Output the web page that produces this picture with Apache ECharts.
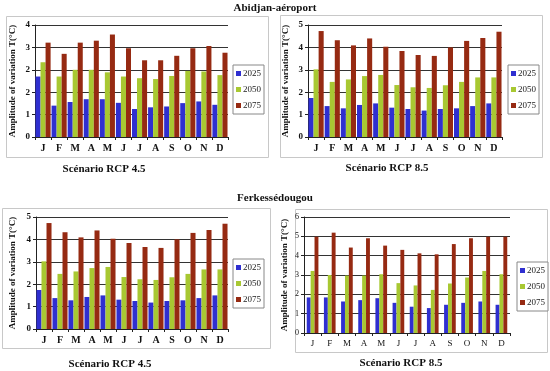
<!DOCTYPE html>
<html><head><meta charset="utf-8">
<script src="https://cdn.jsdelivr.net/npm/echarts@6/dist/echarts.min.js"></script>
<style>html,body{margin:0;padding:0;background:#fff}#c{width:550px;height:371px}</style>
</head><body><div id="c"></div>
<script>
const months = ['J','F','M','A','M','J','J','A','S','O','N','D'];
const years = ['2025','2050','2075'];
// Abidjan-aéroport RCP 4.5
const abi45_2025 = [2.16,1.12,1.25,1.35,1.35,1.22,1.00,1.06,1.09,1.21,1.27,1.15];
const abi45_2050 = [2.67,2.16,2.40,2.40,2.31,2.16,2.10,2.07,2.18,2.36,2.34,2.21];
const abi45_2075 = [3.37,2.97,3.37,3.44,3.66,3.17,2.74,2.74,2.90,3.17,3.25,3.01];
const abi45_ticks = ['0','1','2','2','3','4'];
// Abidjan-aéroport RCP 8.5
const abi85_2025 = [1.74,1.38,1.28,1.43,1.50,1.31,1.25,1.18,1.25,1.28,1.38,1.50];
const abi85_2050 = [3.02,2.46,2.57,2.72,2.77,2.32,2.22,2.19,2.31,2.46,2.66,2.66];
const abi85_2075 = [4.73,4.32,4.09,4.40,4.03,3.84,3.66,3.62,4.00,4.29,4.42,4.70];
// Ferkessédougou RCP 4.5
const fer45_2025 = [1.74,1.38,1.28,1.43,1.50,1.31,1.25,1.18,1.25,1.28,1.38,1.50];
const fer45_2050 = [3.02,2.46,2.57,2.72,2.77,2.32,2.22,2.19,2.31,2.46,2.66,2.66];
const fer45_2075 = [4.73,4.32,4.09,4.40,4.03,3.84,3.66,3.62,4.00,4.29,4.42,4.70];
// Ferkessédougou RCP 8.5
const fer85_2025 = [1.84,1.84,1.63,1.70,1.80,1.56,1.36,1.29,1.46,1.56,1.63,1.46];
const fer85_2050 = [3.21,3.00,2.97,2.97,3.04,2.58,2.46,2.23,2.56,2.87,3.21,3.04];
const fer85_2075 = [4.98,5.19,4.42,4.90,4.52,4.30,4.12,4.07,4.60,4.90,4.98,4.98];

const colors = ['#2f2fd0','#a8c832','#962a12'];
const serif = '"Liberation Serif","DejaVu Serif",serif';
const yName = 'Amplitude of variation T(°C)';

const panels = [
  {grid:{left:35,top:25,width:193,height:112}, data:[abi45_2025,abi45_2050,abi45_2075], max:4, interval:0.8, ticks:abi45_ticks, gap:'6%', bold:true, nameGap:18},
  {grid:{left:308,top:25,width:194,height:112}, data:[abi85_2025,abi85_2050,abi85_2075], max:5, interval:1, gap:'6%', bold:true, nameGap:18},
  {grid:{left:36,top:217,width:192,height:112}, data:[fer45_2025,fer45_2050,fer45_2075], max:5, interval:1, gap:'6%', bold:true, nameGap:19},
  {grid:{left:304,top:217,width:206,height:116}, data:[fer85_2025,fer85_2050,fer85_2075], max:6, interval:1, gap:'32%', bold:false, nameGap:15}
];
const tStyle = {fontFamily:serif,fontWeight:'bold',fontSize:11,color:'#111'};
const option = {
  backgroundColor:'#fff',
  animation:false,
  title:[
    {text:'Abidjan-aéroport', left:'center', top:3, padding:0, textStyle:tStyle},
    {text:'Ferkessédougou', left:'center', top:193, padding:0, textStyle:tStyle},
    {text:'Scénario RCP 4.5', left:104, top:164, padding:0, textAlign:'center', textStyle:tStyle},
    {text:'Scénario RCP 8.5', left:387, top:163, padding:0, textAlign:'center', textStyle:tStyle},
    {text:'Scénario RCP 4.5', left:110, top:359, padding:0, textAlign:'center', textStyle:tStyle},
    {text:'Scénario RCP 8.5', left:401, top:358, padding:0, textAlign:'center', textStyle:tStyle}
  ],
  graphic:[
    {type:'rect', shape:{x:6.5,y:16.5,width:262,height:141}, style:{fill:'none',stroke:'#c8c8c8',lineWidth:1}, z:-1},
    {type:'rect', shape:{x:280.5,y:15.5,width:262,height:142}, style:{fill:'none',stroke:'#c8c8c8',lineWidth:1}, z:-1},
    {type:'rect', shape:{x:2.5,y:208.5,width:268,height:140}, style:{fill:'none',stroke:'#c8c8c8',lineWidth:1}, z:-1},
    {type:'rect', shape:{x:295.5,y:209.5,width:252,height:143}, style:{fill:'none',stroke:'#c8c8c8',lineWidth:1}, z:-1}
  ],
  legend:[
    {left:233, top:65},{left:508, top:65},{left:233, top:259},{left:517, top:262}
  ].map(p=>({
    left:p.left, top:p.top, orient:'vertical', data:years, itemWidth:5, itemHeight:5, itemGap:7,
    padding:[4,3,4,3], borderColor:'#888', borderWidth:1, backgroundColor:'#fff',
    icon:'rect', textStyle:{fontFamily:serif,fontSize:9,color:'#222',padding:[0,0,0,-3]}
  })),
  grid: panels.map(p=>p.grid),
  xAxis: panels.map((p,i)=>({
    type:'category', gridIndex:i, data:months, boundaryGap:true,
    axisLine:{lineStyle:{color:'#222'}},
    axisTick:{show:true, length:3, lineStyle:{color:'#222'}},
    axisLabel:{fontFamily:serif, fontWeight:p.bold?'bold':'normal', fontSize:p.bold?10:9, color:'#111', margin:6}
  })),
  yAxis: panels.map((p,i)=>({
    type:'value', gridIndex:i, min:0, max:p.max, interval:p.interval,
    name:yName, nameLocation:'middle', nameGap:p.nameGap, nameRotate:90,
    nameTextStyle:{fontFamily:serif, fontWeight:'bold', fontSize:9, color:'#111'},
    axisLine:{show:true, lineStyle:{color:'#222'}},
    axisTick:{show:true, length:3, lineStyle:{color:'#222'}},
    splitLine:{show:true, lineStyle:{color:'#333', width:1}},
    axisLabel:{fontFamily:serif, fontWeight:p.bold?'bold':'normal', fontSize:p.bold?9:8, color:'#111', margin:5,
      formatter: p.ticks ? (v)=>p.ticks[Math.round(v/p.interval)] : (v)=>String(v)}
  })),
  series: []
};
panels.forEach((p,i)=>{
  p.data.forEach((arr,k)=>{
    option.series.push({
      type:'bar', name:years[k], xAxisIndex:i, yAxisIndex:i, data:arr,
      barGap:'0%', barCategoryGap:p.gap,
      itemStyle:{color:colors[k]}
    });
  });
});
const chart = echarts.init(document.getElementById('c'), null, {renderer:'canvas'});
chart.setOption(option);
</script>
</body></html>
